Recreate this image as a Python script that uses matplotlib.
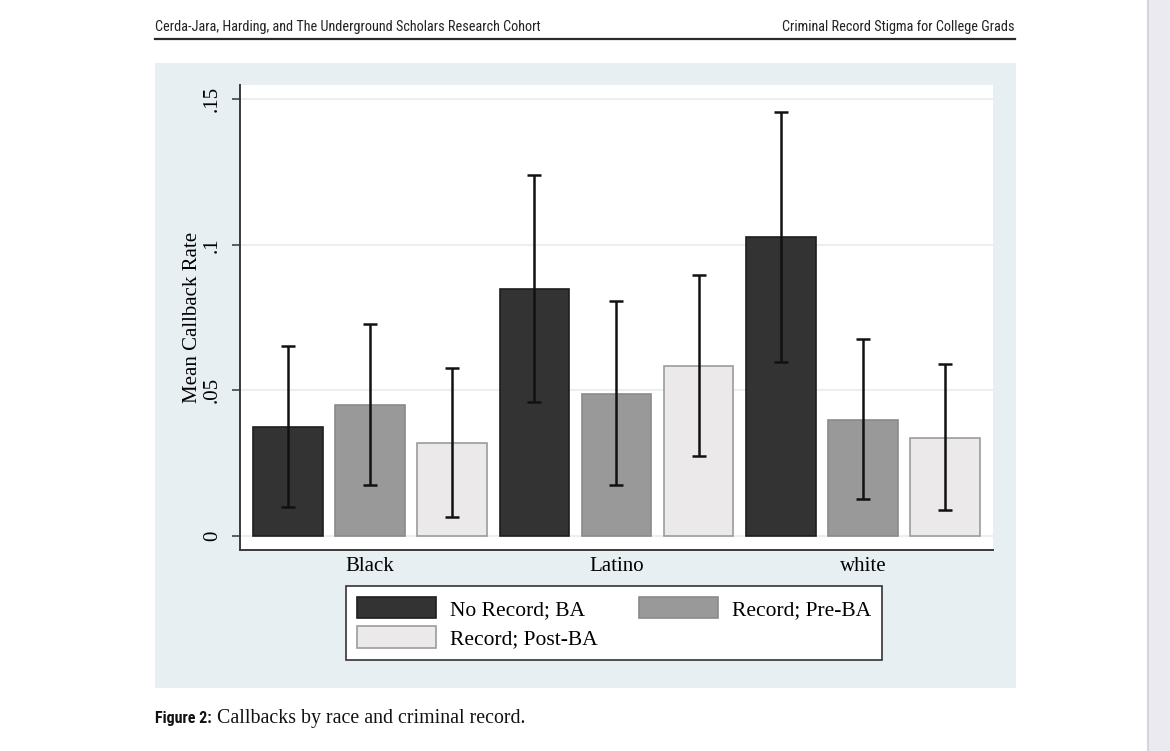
import numpy as np
import matplotlib
matplotlib.use("Agg")
import matplotlib.pyplot as plt
from matplotlib.patches import Rectangle, Patch
from matplotlib.lines import Line2D
from matplotlib import font_manager

groups = ["Black", "Latino", "white"]
series = ["No Record; BA", "Record; Pre-BA", "Record; Post-BA"]
# mean callback rate, rows = race, cols = record status
means = [[0.0375, 0.0451, 0.0320],
         [0.0848, 0.0488, 0.0582],
         [0.1025, 0.0398, 0.0336]]
ci_low = [[0.0100, 0.0175, 0.0065],
          [0.0459, 0.0174, 0.0274],
          [0.0596, 0.0126, 0.0090]]
ci_high = [[0.0653, 0.0729, 0.0578],
           [0.1239, 0.0808, 0.0896],
           [0.1455, 0.0677, 0.0590]]
yticks = [0, 0.05, 0.1, 0.15]
ytick_labels = ["0", ".05", ".1", ".15"]

face = ["#333333", "#999999", "#ebe9ea"]
edge = ["#1e1e1e", "#8a8a8a", "#9c9c9c"]
serif = "Liberation Serif"


# a narrow sans for the page header / caption label, if one is installed
def narrow_font(bold=False):
    want = "bold" if bold else "normal"
    found = []
    for f in font_manager.fontManager.ttflist:
        nm = f.name.lower()
        narrowish = ("narrow" in nm or "condensed" in nm or
                     f.stretch in ("condensed", "semi-condensed", 600, 700) or
                     "condensed" in f.fname.lower())
        if not narrowish or f.style != "normal":
            continue
        is_bold = (f.weight in ("bold", 700, "semibold", 600)) or "bold" in f.fname.lower()
        if is_bold != bold:
            continue
        found.append(f)
    for pref in ["liberation sans narrow", "roboto condensed", "open sans condensed",
                 "noto sans", "dejavu sans", "roboto", "open sans"]:
        for f in found:
            if f.name.lower().startswith(pref):
                return font_manager.FontProperties(fname=f.fname)
    if found:
        return font_manager.FontProperties(fname=found[0].fname)
    return font_manager.FontProperties(family="DejaVu Sans", weight=want)


nar = narrow_font()
nar_b = narrow_font(bold=True)

W, H = 1170, 751
fig = plt.figure(figsize=(W / 100, H / 100), dpi=100)
fig.patch.set_facecolor("white")


def fx(px):
    return px / W


def fy(py):
    return 1 - py / H


def fit(t, target_px):
    # scale a text so its width matches the reference
    r = fig.canvas.get_renderer()
    w = t.get_window_extent(r).width
    t.set_fontsize(t.get_fontsize() * target_px / w)


# page edge on the right
fig.patches.append(Rectangle((fx(1148), 0), 1 - fx(1148), 1, transform=fig.transFigure,
                             facecolor="#ebeaf0", edgecolor="none", zorder=-2))
fig.add_artist(Line2D([fx(1147.5), fx(1147.5)], [0, 1], color="#d6d6da", lw=1.5))

# header
h1 = fig.text(fx(155), fy(27), "Cerda-Jara, Harding, and The Underground Scholars Research Cohort",
              ha="left", va="center", fontproperties=nar, fontsize=11, color="#222222")
h2 = fig.text(fx(1015), fy(27), "Criminal Record Stigma for College Grads",
              ha="right", va="center", fontproperties=nar, fontsize=11, color="#222222")
fit(h1, 387)
fit(h2, 232)
fig.add_artist(Line2D([fx(155), fx(1015)], [fy(38.5), fy(38.5)], color="#2a2a2a", lw=1.6))

# stata graph region
fig.patches.append(Rectangle((fx(155), fy(688)), fx(1016) - fx(155), fy(63) - fy(688),
                             transform=fig.transFigure, facecolor="#e8eff3",
                             edgecolor="none", zorder=-1))

ax = fig.add_axes([fx(240), fy(550), fx(993) - fx(240), fy(85) - fy(550)])
ax.set_facecolor("white")

width = 0.847
for g in range(len(groups)):
    for s in range(len(series)):
        x = g * 3 + s
        m = means[g][s]
        ax.bar(x, m, width=width, color=face[s], edgecolor=edge[s], linewidth=1.2, zorder=2)
        ax.errorbar(x, m, yerr=[[m - ci_low[g][s]], [ci_high[g][s] - m]], fmt="none",
                    ecolor="#111111", elinewidth=1.8, capsize=5, capthick=1.8, zorder=3)

ax.set_xlim(-0.585, 8.585)
ax.set_ylim(-0.0049, 0.1549)
ax.set_yticks(yticks)
ax.set_yticklabels(ytick_labels, rotation=90, va="center", family=serif, fontsize=15)
ax.set_xticks([1, 4, 7])
ax.set_xticklabels(groups, family=serif, fontsize=15)
ax.tick_params(axis="x", length=0, pad=5)
ax.tick_params(axis="y", length=6, width=1.2, color="#444444", pad=7)
ax.grid(axis="y", color="#e9eff2", lw=1.5, zorder=0)
ax.set_axisbelow(True)
for sp in ["top", "right"]:
    ax.spines[sp].set_visible(False)
for sp in ["left", "bottom"]:
    ax.spines[sp].set_color("#3a3a3a")
    ax.spines[sp].set_linewidth(1.4)

ax.set_ylabel("Mean Callback Rate", family=serif, fontsize=15)
ax.yaxis.set_label_coords(-0.051, 0.5)

handles = [Patch(facecolor=face[i], edgecolor=edge[i], linewidth=1.2) for i in range(3)]
order = [0, 2, 1]
leg = fig.legend([handles[i] for i in order], [series[i] for i in order], ncol=2,
                 loc="center", bbox_to_anchor=(fx(614), fy(623)),
                 prop=dict(family=serif, size=15.5), handlelength=3.7, handleheight=1.15,
                 handletextpad=0.65, columnspacing=1.9, labelspacing=0.3, borderpad=0.5,
                 borderaxespad=0, fancybox=False, framealpha=1, edgecolor="#333333")
leg.get_frame().set_linewidth(1.2)

# caption
c1 = fig.text(fx(155), fy(718), "Figure 2:", ha="left", va="center", fontproperties=nar_b,
              fontsize=12, color="#111111")
fit(c1, 57)
fig.text(fx(217), fy(719), "Callbacks by race and criminal record.", ha="left", va="center",
         fontsize=14.3, family=serif, color="#111111")

fig.savefig("out.png", dpi=100)
